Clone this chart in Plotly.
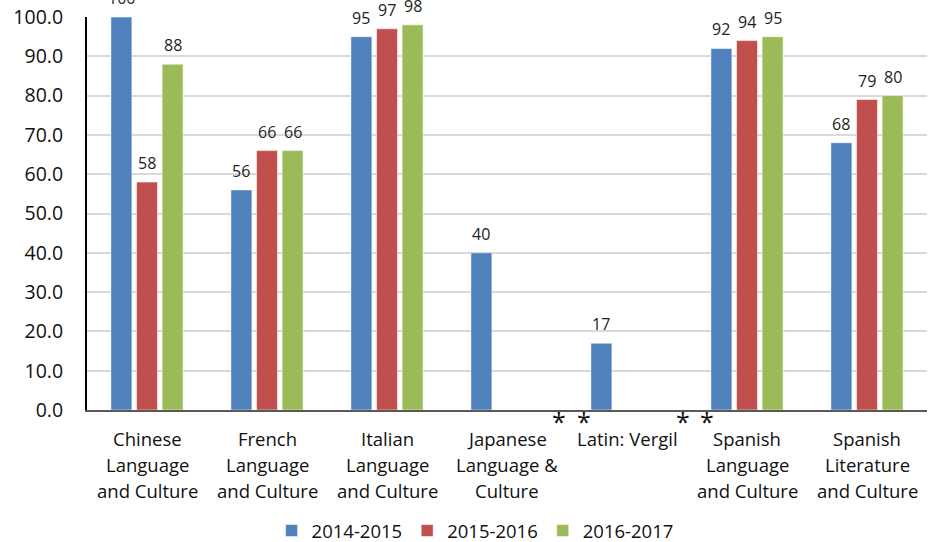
import plotly.graph_objects as go

# Course names (one line per list entry when drawn under the axis)
courses = [
    "Chinese Language and Culture",
    "French Language and Culture",
    "Italian Language and Culture",
    "Japanese Language & Culture",
    "Latin: Vergil",
    "Spanish Language and Culture",
    "Spanish Literature and Culture",
]
course_lines = [
    ["Chinese", "Language", "and Culture"],
    ["French", "Language", "and Culture"],
    ["Italian", "Language", "and Culture"],
    ["Japanese", "Language &", "Culture"],
    ["Latin: Vergil"],
    ["Spanish", "Language", "and Culture"],
    ["Spanish", "Literature", "and Culture"],
]

years = ["2014-2015", "2015-2016", "2016-2017"]
pct_2014 = [100, 56, 95, 40, 17, 92, 68]
pct_2015 = [58, 66, 97, None, None, 94, 79]
pct_2016 = [88, 66, 98, None, None, 95, 80]
series = [pct_2014, pct_2015, pct_2016]

y_ticks = [0, 10, 20, 30, 40, 50, 60, 70, 80, 90, 100]

colors = ["#4F81BD", "#C0504D", "#9BBB59"]
FONT = "Open Sans"
BARGAP = 0.36
GROUPGAP = 0.18

fig = go.Figure()
for name, vals, col in zip(years, series, colors):
    fig.add_trace(go.Bar(
        name=name, x=courses, y=vals,
        marker=dict(color=col, line=dict(color="rgba(255,255,255,0.55)", width=1)),
    ))

annotations = []
# value labels above each bar, positioned at the bar's slot inside its group
slot = (1 - BARGAP) / len(series)
for j, vals in enumerate(series):
    offset = (j - (len(series) - 1) / 2) * slot
    for i, v in enumerate(vals):
        if v is None:
            continue
        annotations.append(dict(
            x=i + offset, y=v, xref="x", yref="y", text=f"{v:.0f}",
            showarrow=False, yanchor="bottom", yshift=6,
            font=dict(family=FONT, size=16, color="#222222"),
        ))

# multi-line course names under the axis
for i, lines in enumerate(course_lines):
    for k, line in enumerate(lines):
        annotations.append(dict(
            x=i, y=0, xref="x", yref="y", text=line, showarrow=False,
            yanchor="middle", yshift=-(28 + 26 * k),
            font=dict(family=FONT, size=18.5, color="#111111"),
        ))

# asterisks flagging unreported years
for xa in [3.43, 3.64, 4.47, 4.67]:
    annotations.append(dict(
        x=xa, y=0, xref="x", yref="y", text="*", showarrow=False,
        yanchor="top", yshift=8,
        font=dict(family=FONT, size=25, color="#111111"),
    ))

fig.update_layout(
    width=932, height=542,
    margin=dict(l=87, r=5, t=17, b=132, autoexpand=False),
    plot_bgcolor="white", paper_bgcolor="white",
    barmode="group", bargap=BARGAP, bargroupgap=GROUPGAP,
    font=dict(family=FONT, size=18, color="#111111"),
    showlegend=True,
    legend=dict(
        orientation="h", x=0.462, xanchor="center", y=-0.308, yanchor="middle",
        font=dict(family=FONT, size=18.5, color="#111111"),
        itemwidth=30, traceorder="normal",
    ),
    annotations=annotations,
)
fig.update_xaxes(
    showticklabels=False, showgrid=False, ticks="",
    showline=True, linecolor="#595959", linewidth=2,
)
fig.update_yaxes(
    range=[0, 100], tickvals=y_ticks, tickformat=".1f",
    showgrid=True, gridcolor="#D9D9D9", gridwidth=1.5,
    showline=True, linecolor="#000000", linewidth=2,
    ticks="", ticklabelstandoff=18, zeroline=False,
    tickfont=dict(family=FONT, size=19.5, color="#111111"),
)

fig.write_html("out.html")
